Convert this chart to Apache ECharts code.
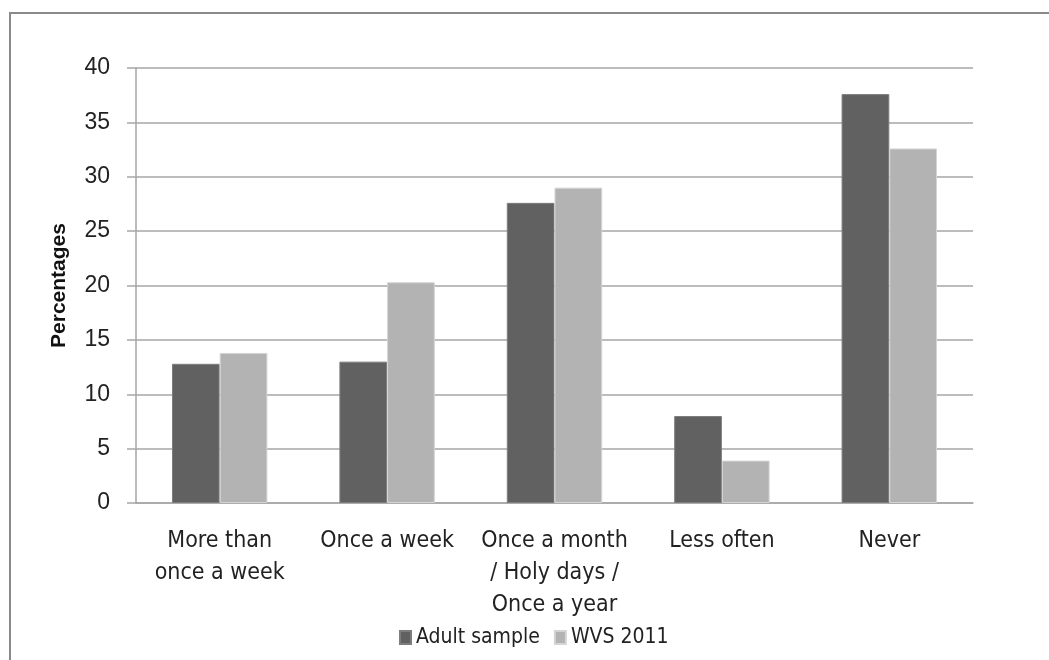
<!DOCTYPE html>
<html>
<head>
<meta charset="utf-8">
<script src="https://cdn.jsdelivr.net/npm/echarts@6/dist/echarts.min.js"></script>
<style>
  html, body { margin: 0; padding: 0; background: #fff; }
  #chart { width: 1049px; height: 660px; }
</style>
</head>
<body>
<div id="chart"></div>
<script>
// Frequency categories and the share of respondents in each
const categories = [
  'More than\nonce a week',
  'Once a week',
  'Once a month\n/ Holy days /\nOnce a year',
  'Less often',
  'Never'
];
const adultSample = [12.8, 13.0, 27.6, 8.0, 37.6];
const wvs2011 = [13.8, 20.3, 29.0, 3.9, 32.6];
const yTicks = { min: 0, max: 40, interval: 5 };

const narrowFont = '"Liberation Sans Narrow", "DejaVu Sans Condensed", "Liberation Sans", sans-serif';
const gridGray = '#a6a6a6';

const chart = echarts.init(document.getElementById('chart'), null, { renderer: 'canvas' });

chart.setOption({
  backgroundColor: '#ffffff',
  animation: false,
  graphic: [{
    type: 'rect',
    silent: true,
    shape: { x: 10, y: 13, width: 1200, height: 800 },
    style: { fill: 'none', stroke: '#8a8a8a', lineWidth: 2 }
  }],
  grid: { left: 136, right: 76, top: 68, bottom: 157, containLabel: false },
  legend: {
    left: 394,
    top: 622,
    itemWidth: 11,
    itemHeight: 13,
    itemGap: 14,
    icon: 'rect',
    textStyle: { fontFamily: narrowFont, fontSize: 21, color: '#222' },
    data: ['Adult sample', 'WVS 2011']
  },
  xAxis: {
    type: 'category',
    data: categories,
    axisLine: { show: true, lineStyle: { color: gridGray, width: 1.5 } },
    axisTick: { show: false },
    axisLabel: {
      interval: 0,
      margin: 22,
      fontFamily: narrowFont,
      fontSize: 23,
      lineHeight: 32,
      color: '#222'
    }
  },
  yAxis: {
    type: 'value',
    min: yTicks.min,
    max: yTicks.max,
    interval: yTicks.interval,
    name: 'Percentages',
    nameLocation: 'middle',
    nameGap: 66,
    nameRotate: 90,
    nameTextStyle: {
      fontFamily: '"Liberation Sans", Arial, sans-serif',
      fontWeight: 'bold',
      fontSize: 21,
      color: '#111'
    },
    axisLine: { show: true, lineStyle: { color: gridGray, width: 1.5 } },
    axisTick: { show: true, inside: false, length: 9, lineStyle: { color: gridGray, width: 1.5 } },
    axisLabel: {
      margin: 26,
      fontFamily: '"Liberation Sans", Arial, sans-serif',
      fontSize: 23,
      color: '#222'
    },
    splitLine: { show: true, lineStyle: { color: gridGray, width: 1.5 } }
  },
  series: [
    {
      name: 'Adult sample',
      type: 'bar',
      data: adultSample,
      barGap: '0%',
      barCategoryGap: '43%',
      itemStyle: { color: '#616161', borderColor: '#7d7d7d', borderWidth: 1 }
    },
    {
      name: 'WVS 2011',
      type: 'bar',
      data: wvs2011,
      barGap: '0%',
      barCategoryGap: '43%',
      itemStyle: { color: '#b3b3b3', borderColor: '#d4d4d4', borderWidth: 1 }
    }
  ]
});
</script>
</body>
</html>
